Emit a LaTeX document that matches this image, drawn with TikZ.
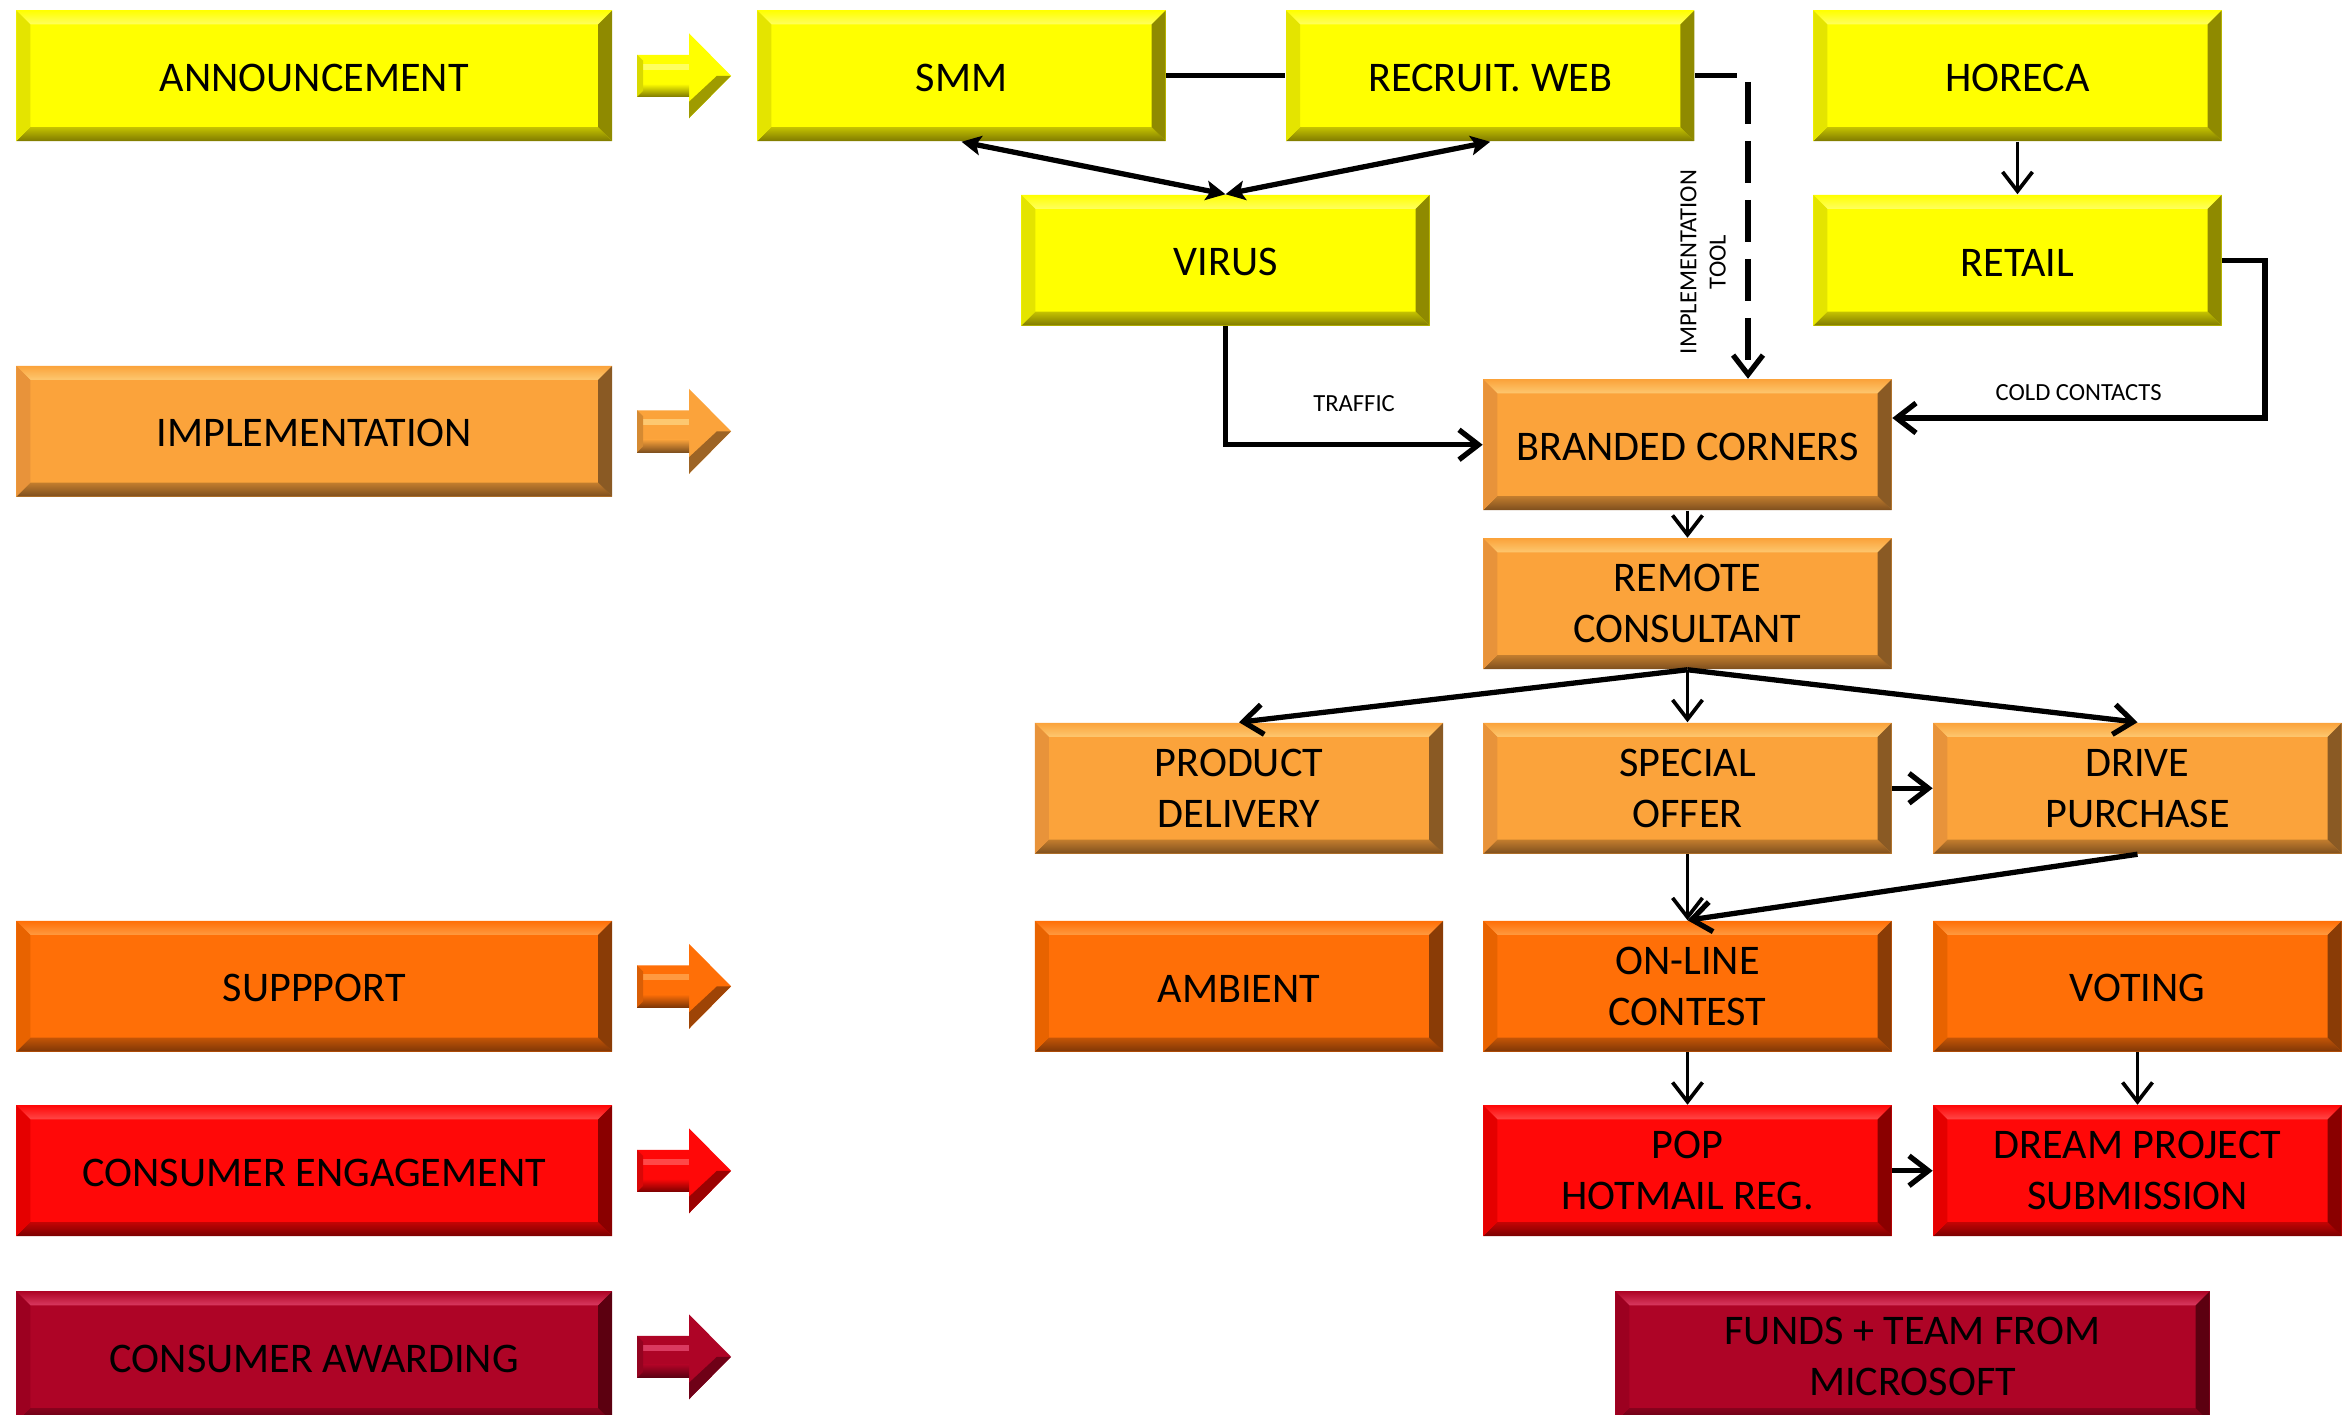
\documentclass[tikz,border=0pt]{standalone}
\usepackage{fontspec}
\setmainfont{Carlito}
\usetikzlibrary{arrows.meta}

\definecolor{yB}{HTML}{FFFF00}
\definecolor{yT}{HTML}{FFFF60}
\definecolor{yD}{HTML}{7F7A00}
\definecolor{yL}{HTML}{E4E400}
\definecolor{yR}{HTML}{8F8A00}

\definecolor{oB}{HTML}{FBA33B}
\definecolor{oT}{HTML}{FDC870}
\definecolor{oD}{HTML}{7E4F1E}
\definecolor{oL}{HTML}{E8933A}
\definecolor{oR}{HTML}{8A5A24}

\definecolor{dB}{HTML}{FF6F07}
\definecolor{dT}{HTML}{FF9A40}
\definecolor{dD}{HTML}{7E3606}
\definecolor{dL}{HTML}{E86300}
\definecolor{dR}{HTML}{8A3C06}

\definecolor{rB}{HTML}{FF0808}
\definecolor{rT}{HTML}{FF4848}
\definecolor{rD}{HTML}{7A0000}
\definecolor{rL}{HTML}{E50000}
\definecolor{rR}{HTML}{8A0000}

\definecolor{mB}{HTML}{AE0426}
\definecolor{mT}{HTML}{DA3A60}
\definecolor{mD}{HTML}{5A0012}
\definecolor{mL}{HTML}{9C0020}
\definecolor{mR}{HTML}{5C0010}

\newlength\bevw
\setlength\bevw{0.14cm}

\tikzset{
  boxbase/.style={minimum width=4.08cm, minimum height=1.305cm, inner sep=0pt,
    align=center, text=black, font=\fontsize{12}{14.5}\selectfont,
    execute at begin node={\rule{0pt}{9pt}}},
  bev/.style n args={5}{boxbase, fill=#1, path picture={
    \coordinate (bsw) at (path picture bounding box.south west);
    \coordinate (bne) at (path picture bounding box.north east);
    \coordinate (bnw) at (bsw|-bne);
    \coordinate (bse) at (bne|-bsw);
    \shade[top color=#1, bottom color=#2] (bnw) -- (bne) -- ([shift={(-\bevw,-\bevw)}]bne) -- ([shift={(\bevw,-\bevw)}]bnw) -- cycle;
    \shade[top color=#3!45!#1, bottom color=#3] (bsw) -- (bse) -- ([shift={(-\bevw,\bevw)}]bse) -- ([shift={(\bevw,\bevw)}]bsw) -- cycle;
    \fill[#4] (bsw) -- ([shift={(\bevw,\bevw)}]bsw) -- ([shift={(\bevw,-\bevw)}]bnw) -- (bnw) -- cycle;
    \fill[#5] (bse) -- (bne) -- ([shift={(-\bevw,-\bevw)}]bne) -- ([shift={(-\bevw,\bevw)}]bse) -- cycle;
  }},
  ybox/.style={bev={yB}{yT}{yD}{yL}{yR}},
  obox/.style={bev={oB}{oT}{oD}{oL}{oR}},
  dbox/.style={bev={dB}{dT}{dD}{dL}{dR}},
  rbox/.style={bev={rB}{rT}{rD}{rL}{rR}},
  mbox/.style={bev={mB}{mT}{mD}{mL}{mR}},
  wide/.style={minimum width=5.955cm},
  thinln/.style={line width=1.05pt, draw=black},
  thickln/.style={line width=1.5pt, draw=black},
  barb/.style={-{Straight Barb[length=5.5pt,width=8.5pt]}},
  dbl/.style={{Stealth[length=5.5pt,width=5.5pt,inset=1.2pt]}-{Stealth[length=5.5pt,width=5.5pt,inset=1.2pt]}},
  small/.style={font=\fontsize{7}{8.3}\selectfont, inner sep=0pt, align=center},
  pics/blockarr/.style n args={3}{code={
    \fill[#2] (-47,-21) -- (5,-21) -- (5,-42.5) -- (47,0) -- (5,42.5) -- (5,21) -- (-47,21) -- cycle;
    \fill[#1] (-43,-12) -- (5,-12) -- (5,-6) -- (-43,-6) -- cycle;
    \shade[top color=#2, bottom color=#3] (-47,8) -- (5,8) -- (5,21) -- (-47,21) -- cycle;
    \fill[#3!75!#2] (47,0) -- (5,42.5) -- (5,26) -- (33,0) -- cycle;
    \fill[#2!85!black] (-47,-21) -- (-41,-15) -- (-41,15) -- (-47,21) -- cycle;
  }},
}

\begin{document}
\begin{tikzpicture}[x=0.01cm, y=-0.01cm]
\path[use as bounding box, clip] (0,0) rectangle (2351,1415);

% left column
\node[ybox, wide] (ANN) at (314.25,75.75) {ANNOUNCEMENT};
\node[obox, wide] (IMPL) at (314.25,431.25) {IMPLEMENTATION};
\node[dbox, wide] (SUP) at (314.25,986.25) {SUPPPORT};
\node[rbox, wide] (ENG) at (314.25,1170.75) {CONSUMER ENGAGEMENT};
\node[mbox, wide] (AWD) at (314.25,1356.75) {CONSUMER AWARDING};

\pic at (684,75.75) {blockarr={yT}{yB}{yD}};
\pic at (684,431.25) {blockarr={oT}{oB}{oD}};
\pic at (684,986.25) {blockarr={dT}{dB}{dD}};
\pic at (684,1170.75) {blockarr={rT}{rB}{rD}};
\pic at (684,1356.75) {blockarr={mT}{mB}{mD}};

% announcement row
\node[ybox] (SMM) at (961.5,75.75) {SMM};
\node[ybox] (REC) at (1490.25,75.75) {RECRUIT. WEB};
\node[ybox] (HOR) at (2017.5,75.75) {HORECA};
\node[ybox] (VIR) at (1225.5,260.25) {VIRUS};
\node[ybox] (RET) at (2017.5,260.25) {RETAIL};

% implementation
\node[obox] (BC) at (1687.5,444.75) {BRANDED CORNERS};
\node[obox] (RC) at (1687.5,603.75) {REMOTE\\CONSULTANT};
\node[obox] (PD) at (1239,788.25) {PRODUCT\\DELIVERY};
\node[obox] (SO) at (1687.5,788.25) {SPECIAL\\OFFER};
\node[obox] (DP) at (2137.5,788.25) {DRIVE\\PURCHASE};

% support
\node[dbox] (AMB) at (1239,986.25) {AMBIENT};
\node[dbox] (OC) at (1687.5,986.25) {ON-LINE\\CONTEST};
\node[dbox] (VOT) at (2137.5,986.25) {VOTING};

% engagement
\node[rbox] (POP) at (1687.5,1170.75) {POP\\HOTMAIL REG.};
\node[rbox] (DRM) at (2137.5,1170.75) {DREAM PROJECT\\SUBMISSION};

% awarding
\node[mbox, minimum width=5.94cm] (FUN) at (1912.5,1356.75) {FUNDS + TEAM FROM\\MICROSOFT};

% connectors
\draw[thickln] (SMM.east) -- (REC.west);
\draw[thickln, dbl] (SMM.south) -- (VIR.north);
\draw[thickln, dbl] (REC.south) -- (VIR.north);

\coordinate (dk) at (1748,75.75);
\draw[thickln, barb, dash pattern=on 0.42cm off 0.17cm] (REC.east) -- (dk) -- (dk |- BC.north);
\node[small, rotate=90] (IT) at (1703,262) {IMPLEMENTATION\\TOOL};

\draw[thinln, barb] (HOR.south) -- (RET.north);

\coordinate (cc) at (2265,418);
\draw[thickln, barb] (RET.east) -| (cc) -- (BC.east |- cc)
  node[small, midway, above=0.15cm] (CCL) {COLD CONTACTS};

\draw[thickln, barb] (VIR.south) |- (BC.west)
  node[small, pos=0.75, above=0.3cm] (TRL) {TRAFFIC};

\draw[thinln, barb] (BC.south) -- (RC.north);
\draw[thickln, barb] (RC.south) -- (PD.north);
\draw[thinln, barb] (RC.south) -- (SO.north);
\draw[thickln, barb] (RC.south) -- (DP.north);
\draw[thickln, barb] (SO.east) -- (DP.west);
\draw[thinln, barb] (SO.south) -- (OC.north);
\draw[thickln, barb] (DP.south) -- (OC.north);
\draw[thinln, barb] (OC.south) -- (POP.north);
\draw[thinln, barb] (VOT.south) -- (DRM.north);
\draw[thickln, barb] (POP.east) -- (DRM.west);
\end{tikzpicture}
\end{document}
